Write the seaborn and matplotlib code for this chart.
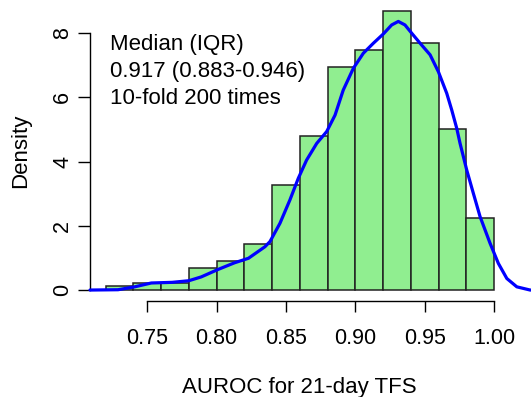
"""
AUROC distribution over repeated 10-fold CV — histogram + density curve.
"""

import matplotlib
matplotlib.use("Agg")
import matplotlib.pyplot as plt
import numpy as np
import seaborn as sns

sns.set_style("ticks")
plt.rcParams.update({
    "font.family": ["Liberation Sans", "DejaVu Sans"],
    "axes.linewidth": 1.0,
    "text.color": "black", "axes.labelcolor": "black",
    "xtick.color": "black", "ytick.color": "black",
    "axes.edgecolor": "black",
})

# histogram (density scale), bins of width 0.02 from 0.72 to 1.00
bin_edges = [0.72, 0.74, 0.76, 0.78, 0.80, 0.82, 0.84, 0.86,
             0.88, 0.90, 0.92, 0.94, 0.96, 0.98, 1.00]
bin_density = [0.125, 0.23, 0.21, 0.70, 0.90, 1.45, 3.26,
               4.80, 6.96, 7.48, 8.69, 7.69, 5.01, 2.26]

# kernel density curve
curve_x = [0.7088, 0.729, 0.741, 0.753, 0.768, 0.780, 0.789, 0.801, 0.813,
           0.823, 0.8349, 0.8385, 0.8457, 0.8529, 0.8589, 0.8649, 0.8722,
           0.8794, 0.8854, 0.8913, 0.8986, 0.9058, 0.9130, 0.9202, 0.9262,
           0.9310, 0.9358, 0.9407, 0.9467, 0.9539, 0.9599, 0.9659, 0.9695,
           0.9731, 0.9755, 0.9803, 0.9851, 0.9899, 0.9971, 1.0031, 1.0092,
           1.0164, 1.026, 1.035]
curve_y = [0.0, 0.01, 0.10, 0.22, 0.24, 0.29, 0.41, 0.64, 0.85,
           0.99, 1.35, 1.51, 2.08, 2.81, 3.48, 4.05, 4.57,
           4.94, 5.45, 6.23, 6.91, 7.38, 7.69, 7.98, 8.26,
           8.37, 8.26, 8.00, 7.69, 7.33, 6.80, 6.13, 5.61,
           5.04, 4.57, 3.74, 3.01, 2.29, 1.46, 0.83, 0.36,
           0.10, 0.0, 0.0]

x_ticks = [0.75, 0.80, 0.85, 0.90, 0.95, 1.00]
y_ticks = [0, 2, 4, 6, 8]
notes = ["Median (IQR)", "0.917 (0.883-0.946)", "10-fold 200 times"]

W, H = 531, 397
fig = plt.figure(figsize=(W / 100, H / 100), dpi=100)
ax = fig.add_axes([90 / W, (H - 301.2) / H, (509.6 - 90) / W, 301.2 / H])

centers = (np.array(bin_edges[:-1]) + np.array(bin_edges[1:])) / 2
sns.histplot(x=centers, weights=bin_density, bins=bin_edges, ax=ax,
             color="#90EE90", alpha=1, edgecolor="#222222", linewidth=1.1)
sns.lineplot(x=curve_x, y=curve_y, ax=ax, color="#0000FF", linewidth=2.3,
             sort=False, estimator=None, clip_on=False, zorder=5,
             solid_joinstyle="round", solid_capstyle="round")

ax.set_xlim(0.7088, 1.0112)
ax.set_ylim(-0.3476, 9.0376)
ax.set_xticks(x_ticks)
ax.set_xticklabels([f"{v:.2f}" for v in x_ticks])
ax.set_yticks(y_ticks)
ax.set_yticklabels([str(v) for v in y_ticks], rotation=90, va="center")

for s in ["top", "right"]:
    ax.spines[s].set_visible(False)
ax.spines["bottom"].set_bounds(0.75, 1.00)
ax.spines["left"].set_bounds(0, 8)
ax.tick_params(axis="x", length=8, width=1, pad=11, labelsize=15.5)
ax.tick_params(axis="y", length=8.5, width=1, pad=3.5, labelsize=15.5)

ax.set_xlabel("AUROC for 21-day TFS", fontsize=16, va="top")
ax.xaxis.set_label_coords(0.5, -0.25)
ax.set_ylabel("Density", fontsize=16)
ax.yaxis.set_label_coords(-0.14, 0.5)

for txt, yb in zip(notes, [7.48, 6.64, 5.80]):
    ax.text(0.7231, yb, txt, fontsize=16, va="baseline", ha="left")

fig.savefig("out.png", dpi=100)
